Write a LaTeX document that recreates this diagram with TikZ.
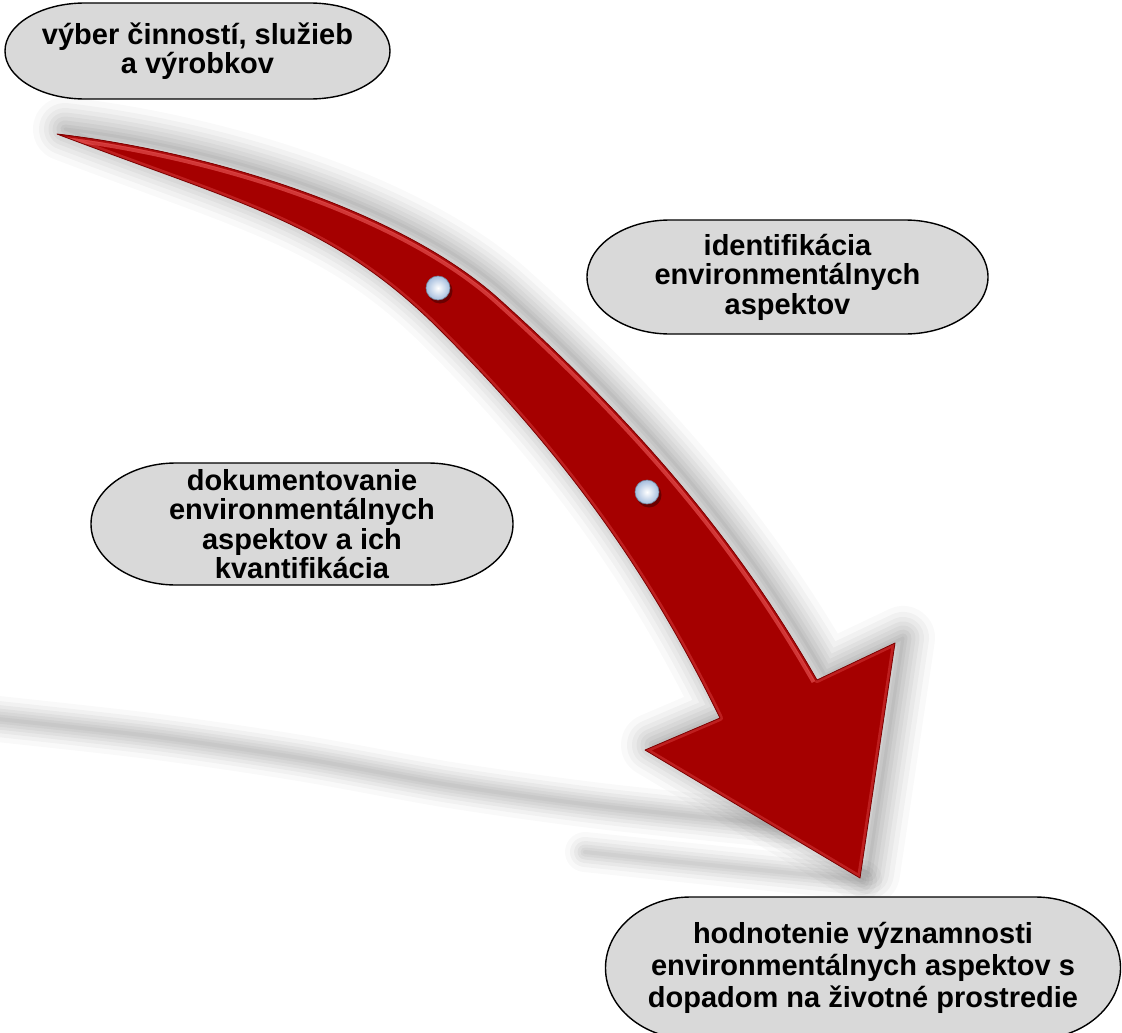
\documentclass[tikz,border=0pt]{standalone}
\usepackage{fontspec}
\setmainfont{Liberation Sans}
\definecolor{arrowred}{RGB}{165,0,0}
\definecolor{arrowhi}{RGB}{238,90,90}
\definecolor{arrowdark}{RGB}{125,0,0}
\definecolor{pillgray}{RGB}{217,217,217}
\definecolor{pearlrim}{RGB}{165,190,222}
\newcommand\upperedge{(57,134) .. controls (217,153) and (404,213) .. (500,300) .. controls (644,430) and (739.5,545) .. (817,680)}
\newcommand\loweredge{(720,718) .. controls (649,573) and (567,457) .. (440,330) .. controls (334,224) and (244,205) .. (57,134)}
\newcommand\arrowoutline{\upperedge -- (895,643) -- (860,878) -- (645,750) -- \loweredge -- cycle}
\newcommand\pillnode[8]{%
  \filldraw[pillshape] ({#2-#4/2+#6},{#3-#5/2}) -- ({#2+#4/2-#6},{#3-#5/2})
    arc[start angle=-90,end angle=90,x radius=#6,y radius={#5/2}]
    -- ({#2-#4/2+#6},{#3+#5/2})
    arc[start angle=90,end angle=270,x radius=#6,y radius={#5/2}] -- cycle;
  \node[pilltext,font=\fontsize{29}{#7}\selectfont\bfseries] (#1) at (#2,#3) {#8};
}
\begin{document}
\begin{tikzpicture}[x=1pt,y=-1pt,
  pillshape/.style={fill=pillgray,draw=black,line width=1.4pt},
  pilltext/.style={align=center,inner sep=0pt,text=black}]
\useasboundingbox (0,0) rectangle (1122,1033);
\fill[white] (0,0) rectangle (1122,1033);
% floor shadow streaks
\foreach \w/\o in {46/0.025,36/0.03,28/0.035,21/0.035,15/0.035,9/0.035,4/0.03}{
  \draw[black,opacity=\o,line width=\w pt,line cap=round] plot[smooth] coordinates {(-30,716) (150,736) (300,758) (450,785) (600,806) (790,826)};
}
\foreach \w/\o in {40/0.025,30/0.03,22/0.035,15/0.035,9/0.035,4/0.03}{
  \draw[black,opacity=\o,line width=\w pt,line cap=round] plot[smooth] coordinates {(585,852) (700,864) (862,880)};
}
% soft shadow of the arrow
\begin{scope}[shift={(8,-5)}]
\foreach \w/\o in {64/0.025,52/0.03,42/0.03,33/0.035,25/0.035,17/0.04,9/0.04,3/0.04}{
  \draw[black,opacity=\o,line width=\w pt,line join=round] \arrowoutline;
}
\end{scope}
% arrow
\fill[arrowred] \arrowoutline;
\begin{scope}
\clip \arrowoutline;
\draw[arrowhi,opacity=0.35,line width=6pt,line join=round] \arrowoutline;
\draw[arrowhi,opacity=0.6,line width=12pt] \upperedge;
\draw[arrowred,opacity=0.8,line width=4pt] \upperedge;
\end{scope}
\draw[arrowdark,line width=0.8pt,line join=round] \arrowoutline;
% pearls
\foreach \px/\py in {438/288,647/492}{
  \fill[black,opacity=0.35] (\px+2,\py+3) circle (12.5);
  \shade[inner color=white,outer color=pearlrim] (\px,\py) circle (12);
  \draw[pearlrim!70!black,line width=0.6pt] (\px,\py) circle (12);
}
% nodes
\pillnode{n1}{197.5}{51}{385}{96}{80}{29.5}{výber činností, služieb\\a výrobkov}
\pillnode{n2}{787.5}{277}{401}{114}{83}{29.5}{identifikácia\\environmentálnych\\aspektov}
\pillnode{n3}{302}{524}{422}{122}{85}{29.5}{dokumentovanie\\environmentálnych\\aspektov a ich\\kvantifikácia}
\pillnode{n4}{863}{968}{515}{142}{85}{32}{hodnotenie významnosti\\environmentálnych aspektov s\\dopadom na životné prostredie}
\end{tikzpicture}
\end{document}
